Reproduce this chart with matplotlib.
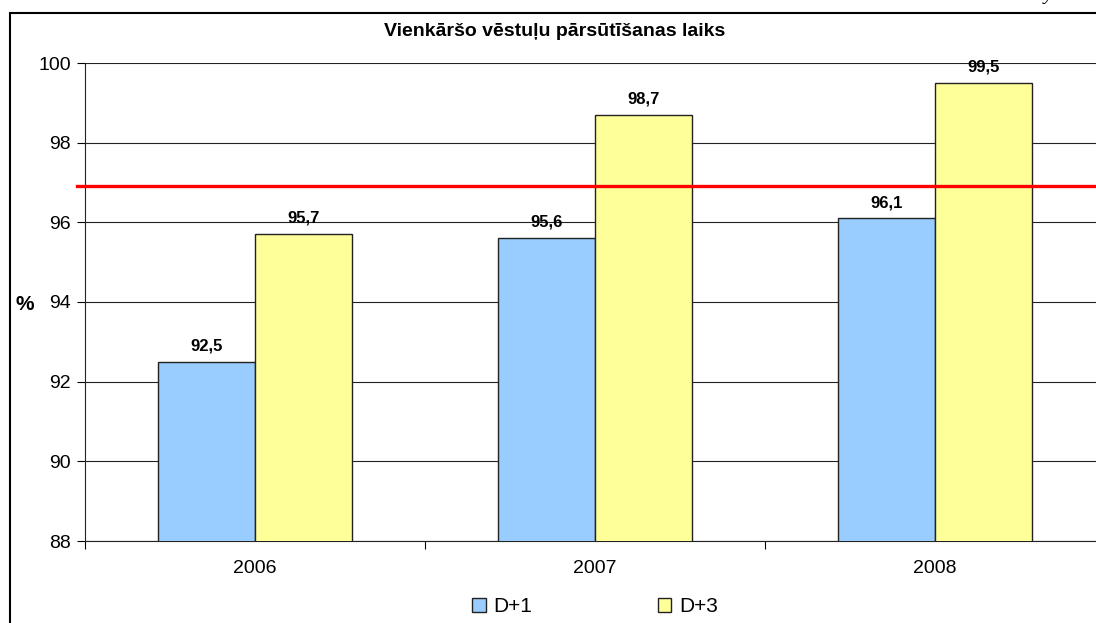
import matplotlib
matplotlib.use("Agg")
import matplotlib.pyplot as plt
from matplotlib.patches import Rectangle
import numpy as np

plt.rcParams['font.family'] = ['Liberation Sans', 'DejaVu Sans']

years = ["2006", "2007", "2008"]
d1 = [92.5, 95.6, 96.1]
d3 = [95.7, 98.7, 99.5]
series = ["D+1", "D+3"]
target = 96.9
C_D1 = "#99CCFF"; C_D3 = "#FFFF99"; C_EDGE = "#222222"

fig = plt.figure(figsize=(10.96, 6.23), dpi=100)
W, H = 1096, 623
ax = fig.add_axes([85 / W, 82 / H, 1020 / W, 478 / H])

x = np.arange(len(years))
w = 97 / 340
b1 = ax.bar(x - w / 2, d1, w, color=C_D1, edgecolor=C_EDGE, lw=1.0, zorder=3, label=series[0])
b2 = ax.bar(x + w / 2, d3, w, color=C_D3, edgecolor=C_EDGE, lw=1.0, zorder=3, label=series[1])
for bars, vals in ((b1, d1), (b2, d3)):
    for r, v in zip(bars, vals):
        ax.annotate(f"{v:.1f}".replace(".", ","), (r.get_x() + r.get_width() / 2, v),
                    xytext=(0, 6), textcoords="offset points", ha="center", va="bottom",
                    fontsize=12, fontweight="bold")

ax.axhline(target, xmin=-0.008, xmax=1.0, color="#FF0000", lw=2.4, zorder=4, clip_on=False)

ax.set_xlim(-0.5, 2.5)
ax.set_ylim(88, 100)
ax.set_yticks(np.arange(88, 101, 2))
ax.tick_params(axis="y", labelsize=14, length=6, pad=4, direction="out")
ax.yaxis.grid(True, color="#222222", lw=0.8, zorder=0)
ax.set_xticks([-0.5, 0.5, 1.5, 2.5])
ax.set_xticklabels([])
ax.set_xticks(x, minor=True)
ax.set_xticklabels(years, minor=True)
ax.tick_params(axis="x", which="major", length=6, direction="out")
ax.tick_params(axis="x", which="minor", length=0, labelsize=14, pad=14)
for s in ("top", "right"):
    ax.spines[s].set_visible(False)
for s in ("left", "bottom"):
    ax.spines[s].set_color("#222222")

fig.text(25 / W, 1 - 305 / H, "%", fontsize=15, fontweight="bold", ha="center", va="center")
fig.text(555 / W, 1 - 31 / H, "Vienkāršo vēstuļu pārsūtīšanas laiks", fontsize=14,
         fontweight="bold", ha="center", va="center")
fig.text(1048 / W, 1.0, "y", fontsize=14, family="Liberation Serif", style="italic",
         ha="center", va="baseline")

fig.add_artist(Rectangle((10 / W, -0.1), 1.2, 1.1 - 13 / H, transform=fig.transFigure,
                         fill=False, ec="black", lw=1.5))

ax.legend(loc="center", bbox_to_anchor=(595 / W, 16 / H), bbox_transform=fig.transFigure,
          ncol=2, frameon=False, fontsize=15, handlelength=0.67, handleheight=0.67,
          handletextpad=0.38, columnspacing=6.0, borderpad=0)

fig.savefig("out.png", dpi=100)
